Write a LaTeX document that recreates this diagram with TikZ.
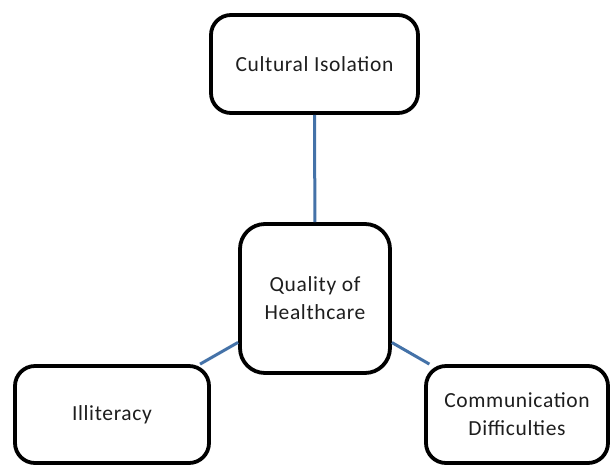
\documentclass[tikz,border=0pt]{standalone}
\usepackage{fontspec}
\setmainfont{Carlito}[LetterSpace=3]
\definecolor{linkblue}{RGB}{68,114,168}
\definecolor{txt}{RGB}{30,30,30}
\begin{document}
\begin{tikzpicture}[x=1pt,y=-1pt,
  box/.style={draw=black, line width=3.8pt, fill=white, rounded corners=20pt,
    align=center, text=txt, font=\fontsize{21.5}{28}\selectfont, inner sep=0pt},
  link/.style={draw=linkblue, line width=3pt}]
\useasboundingbox (0,0) rectangle (612,469);
\fill[white] (0,0) rectangle (612,469);
\node[box, minimum width=207pt, minimum height=98pt] (cult) at (314.5,64) {Cultural Isolation};
\node[box, minimum width=150pt, minimum height=149pt, rounded corners=25pt] (qual) at (315,298.5) {Quality of\\Healthcare};
\node[box, minimum width=194pt, minimum height=97pt] (ill) at (112,414.5) {Illiteracy};
\node[box, minimum width=182pt, minimum height=97pt] (comm) at (517,414.5) {Communication\\Difficulties};
\draw[link] (cult) -- (qual);
\draw[link] (qual) -- (ill);
\draw[link] (qual) -- (comm);
\end{tikzpicture}
\end{document}
